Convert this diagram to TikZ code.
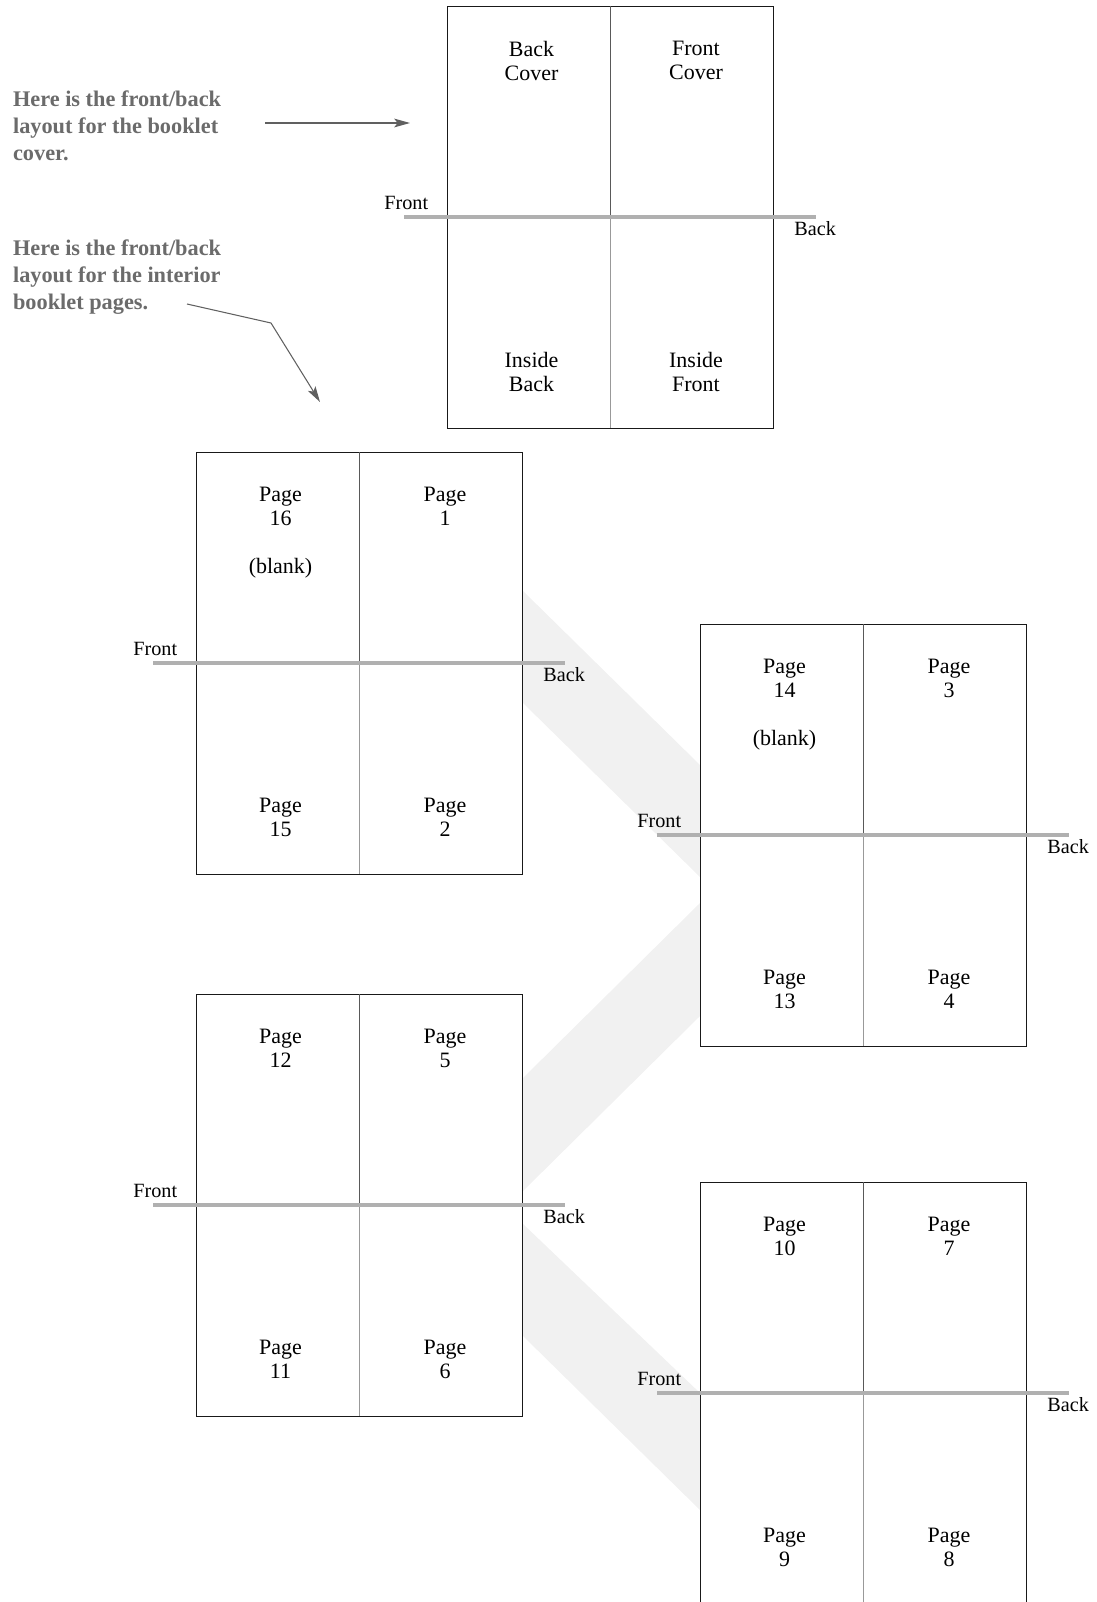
\documentclass[tikz,border=0pt]{standalone}
\usepackage{fontspec}
\setmainfont{Liberation Serif}
\usetikzlibrary{arrows.meta}
\definecolor{foldgray}{HTML}{B0B0B0}
\definecolor{bandgray}{HTML}{F1F1F1}
\definecolor{notegray}{HTML}{6B6B6B}
\definecolor{arrowgray}{HTML}{606060}

\begin{document}
\begin{tikzpicture}[x=0.02cm, y=-0.02cm, >={Stealth[length=9pt, width=5pt, inset=2pt]}]
    % Styles
    \tikzstyle{sheet} = [draw=black!90, line width=0.5pt]
    \tikzstyle{crease} = [line width=0.5pt]
    \tikzstyle{foldline} = [draw=foldgray, line width=2.4pt]
    \tikzstyle{band} = [fill=bandgray]
    \tikzstyle{pagelbl} = [inner sep=0pt, align=center, anchor=north, font=\fontsize{12.5}{13.65}\selectfont]
    \tikzstyle{blanklbl} = [inner sep=0pt, anchor=base, font=\fontsize{12.5}{13.65}\selectfont]
    \tikzstyle{sidelbl} = [inner sep=0pt, anchor=base west, font=\fontsize{11.5}{13}\selectfont]
    \tikzstyle{notetext} = [inner sep=0pt, align=left, anchor=north west, text=notegray, font=\fontsize{12.7}{15.4}\selectfont\bfseries]
    \tikzstyle{pointer} = [->, draw=arrowgray, line width=0.6pt]

    \useasboundingbox (0,0) rectangle (1097,1602);

    % Bands between the sheets
    \fill[band] (522,590) -- (700,765) -- (700,877) -- (522,702) -- cycle;
    \fill[band] (522,1079) -- (700,903) -- (700,1016) -- (522,1192) -- cycle;
    \fill[band] (522,1223) -- (700,1393) -- (700,1510) -- (522,1335) -- cycle;

    % Cover sheet
    \draw[sheet] (447,6) rectangle (773,428);
    \draw[crease, draw=black!65] (610,6) -- (610,217);
    \draw[crease, draw=black!40] (610,217) -- (610,428);
    \draw[foldline] (404,217) -- (816,217);
    \node[sidelbl] (frontcov) at (384,209) {Front};
    \node[sidelbl] (backcov) at (794,235) {Back};
    \node[pagelbl] (backcover) at (531.5,41) {Back\\Cover};
    \node[pagelbl] (frontcover) at (696,41) {Front\\Cover};
    \node[pagelbl] (insideback) at (531.5,352) {Inside\\Back};
    \node[pagelbl] (insidefront) at (696,352) {Inside\\Front};

    % Sheet with pages 16, 1, 15, 2
    \draw[sheet] (196,452) rectangle (522,874);
    \draw[crease, draw=black!65] (359,452) -- (359,663);
    \draw[crease, draw=black!40] (359,663) -- (359,874);
    \draw[foldline] (153,663) -- (565,663);
    \node[sidelbl] (frontA) at (133,655) {Front};
    \node[sidelbl] (backA) at (543,681) {Back};
    \node[pagelbl] (p16) at (280.5,487) {Page\\16};
    \node[blanklbl] (blank16) at (280.5,573) {(blank)};
    \node[pagelbl] (p1) at (445,487) {Page\\1};
    \node[pagelbl] (p15) at (280.5,798) {Page\\15};
    \node[pagelbl] (p2) at (445,798) {Page\\2};

    % Sheet with pages 14, 3, 13, 4
    \draw[sheet] (700,624) rectangle (1026,1046);
    \draw[crease, draw=black!65] (863,624) -- (863,835);
    \draw[crease, draw=black!40] (863,835) -- (863,1046);
    \draw[foldline] (657,835) -- (1069,835);
    \node[sidelbl] (frontB) at (637,827) {Front};
    \node[sidelbl] (backB) at (1047,853) {Back};
    \node[pagelbl] (p14) at (784.5,659) {Page\\14};
    \node[blanklbl] (blank14) at (784.5,745) {(blank)};
    \node[pagelbl] (p3) at (949,659) {Page\\3};
    \node[pagelbl] (p13) at (784.5,970) {Page\\13};
    \node[pagelbl] (p4) at (949,970) {Page\\4};

    % Sheet with pages 12, 5, 11, 6
    \draw[sheet] (196,994) rectangle (522,1416);
    \draw[crease, draw=black!65] (359,994) -- (359,1205);
    \draw[crease, draw=black!40] (359,1205) -- (359,1416);
    \draw[foldline] (153,1205) -- (565,1205);
    \node[sidelbl] (frontC) at (133,1197) {Front};
    \node[sidelbl] (backC) at (543,1223) {Back};
    \node[pagelbl] (p12) at (280.5,1029) {Page\\12};
    \node[pagelbl] (p5) at (445,1029) {Page\\5};
    \node[pagelbl] (p11) at (280.5,1340) {Page\\11};
    \node[pagelbl] (p6) at (445,1340) {Page\\6};

    % Sheet with pages 10, 7, 9, 8 (runs off the bottom)
    \draw[sheet] (700,1602) -- (700,1182) -- (1026,1182) -- (1026,1602);
    \draw[crease, draw=black!65] (863,1182) -- (863,1393);
    \draw[crease, draw=black!40] (863,1393) -- (863,1602);
    \draw[foldline] (657,1393) -- (1069,1393);
    \node[sidelbl] (frontD) at (637,1385) {Front};
    \node[sidelbl] (backD) at (1047,1411) {Back};
    \node[pagelbl] (p10) at (784.5,1217) {Page\\10};
    \node[pagelbl] (p7) at (949,1217) {Page\\7};
    \node[pagelbl] (p9) at (784.5,1528) {Page\\9};
    \node[pagelbl] (p8) at (949,1528) {Page\\8};

    % Notes
    \node[notetext] (covernote) at (12.7,90.5) {Here is the front/back\\layout for the booklet\\cover.};
    \node[notetext] (interiornote) at (12.7,239.5) {Here is the front/back\\layout for the interior\\booklet pages.};

    % Arrows
    \coordinate (covfrom) at (265,123);
    \coordinate (covto) at (410,123);
    \coordinate (intfrom) at (187,304);
    \coordinate (intbend) at (271,323);
    \coordinate (intto) at (320,402);
    \draw[pointer] (covfrom) -- (covto);
    \draw[pointer] (intfrom) -- (intbend) -- (intto);
\end{tikzpicture}
\end{document}
